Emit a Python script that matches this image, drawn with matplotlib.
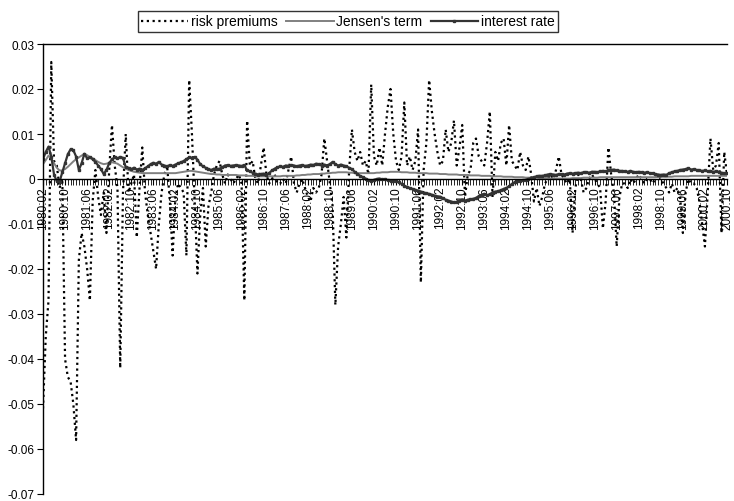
import numpy as np
import matplotlib
matplotlib.use("Agg")
from matplotlib import pyplot as plt
from matplotlib.ticker import FixedLocator, FuncFormatter

plt.rcParams['font.family'] = ['Liberation Sans', 'DejaVu Sans']

# monthly observations 1980:02 .. 2000:10, values in units of 0.001
months = [f"{1980 + (1 + k) // 12}:{(1 + k) % 12 + 1:02d}" for k in range(249)]

risk_premiums = [
    -51, -35, -27, 26, 4, 3, -2, 0, -40, -44,
    -45, -50, -58, -18, -12, -15, -20, -27, -5, 2,
    -4, -8, -3, -12, 2, 12, 3, -2, -42, -3,
    10, -3, -1, 1, -13, -2, 7, -3, -8, -12,
    -16, -20, -10, -3, 1, 3, -5, -17, -4, -1,
    -2, -3, -17, 22, 10, -5, -21, -8, -2, -15,
    -6, -3, 1, 3, 4, 1, -1, 1, 0, -1,
    0, 1, -1, -27, 13, 3, 4, 0, -1, 3,
    7, 1, -1, 0, 1, -1, -1, 0, -1, 2,
    5, -1, -3, -1, 0, -2, -4, -5, -2, -3,
    -2, 1, 9, 4, -1, -6, -28, -15, -10, -4,
    -13, 2, 11, 6, 4, 6, 3, 4, 1, 21,
    5, 3, 7, 3, 10, 16, 20, 10, 4, 2,
    5, 17, 3, 5, 2, 4, 11, -23, 2, 8,
    22, 15, 10, 6, 3, 4, 11, 6, 8, 13,
    3, 7, 12, -4, 1, 2, 8, 9, 5, 4,
    3, 8, 15, -4, 6, 4, 8, 9, 3, 12,
    4, 3, 2, 6, 3, 2, 5, 1, -5, -2,
    -6, -4, -1, 0, 1, 0, 2, 5, 1, 0,
    -1, 0, -12, -2, 1, 0, -3, -2, 0, 1,
    0, -1, -2, -11, -5, 7, 1, -3, -15, -4,
    -1, -1, -2, 0, -1, 0, 1, 0, -1, 0,
    0, -1, 0, 1, 0, -1, -2, -3, -1, -3,
    -2, -4, -12, -3, 0, -1, -1, -2, -5, -10,
    -15, -3, 9, 2, 3, 8, -12, 6, 1,
]

jensens_term = [
    3.3, 4.2, 5.2, 4.5, 3.5, 2.5, 1.9, 1.9, 2.2, 2.7,
    3.3, 3.9, 4.4, 4.8, 5.2, 5.6, 5.3, 4.9, 4.6, 4.2,
    3.8, 3.5, 3.3, 3.4, 3.6, 3.7, 3.6, 3.4, 3.0, 2.6,
    2.3, 2.0, 1.8, 1.6, 1.5, 1.4, 1.3, 1.3, 1.3, 1.3,
    1.3, 1.3, 1.3, 1.3, 1.3, 1.3, 1.3, 1.3, 1.3, 1.4,
    1.5, 1.6, 1.7, 1.8, 1.8, 1.7, 1.6, 1.5, 1.4, 1.3,
    1.2, 1.1, 1.1, 1.0, 1.0, 0.9, 0.9, 0.9, 0.9, 0.9,
    0.9, 0.8, 0.8, 0.8, 0.7, 0.7, 0.7, 0.6, 0.6, 0.6,
    0.6, 0.6, 0.6, 0.6, 0.6, 0.6, 0.6, 0.7, 0.7, 0.7,
    0.7, 0.7, 0.8, 0.8, 0.9, 0.9, 1.0, 1.0, 1.1, 1.1,
    1.1, 1.2, 1.2, 1.3, 1.3, 1.4, 1.4, 1.5, 1.5, 1.5,
    1.5, 1.4, 1.4, 1.3, 1.3, 1.3, 1.3, 1.3, 1.3, 1.3,
    1.3, 1.4, 1.4, 1.5, 1.5, 1.5, 1.6, 1.6, 1.6, 1.6,
    1.5, 1.5, 1.5, 1.4, 1.4, 1.4, 1.3, 1.3, 1.3, 1.3,
    1.2, 1.2, 1.2, 1.2, 1.1, 1.1, 1.1, 1.0, 1.0, 1.0,
    1.0, 0.9, 0.9, 0.9, 0.9, 0.8, 0.8, 0.8, 0.8, 0.7,
    0.7, 0.7, 0.7, 0.6, 0.6, 0.6, 0.6, 0.5, 0.5, 0.5,
    0.5, 0.4, 0.4, 0.4, 0.4, 0.3, 0.3, 0.3, 0.3, 0.3,
    0.2, 0.2, 0.2, 0.2, 0.1, 0.1, 0.1, 0.1, 0.1, 0.1,
    0.1, 0.1, 0.2, 0.2, 0.2, 0.2, 0.3, 0.3, 0.3, 0.3,
    0.3, 0.3, 0.4, 0.4, 0.4, 0.4, 0.4, 0.4, 0.4, 0.4,
    0.4, 0.4, 0.4, 0.4, 0.4, 0.4, 0.4, 0.4, 0.4, 0.4,
    0.4, 0.4, 0.4, 0.5, 0.5, 0.5, 0.5, 0.5, 0.5, 0.6,
    0.6, 0.6, 0.6, 0.6, 0.6, 0.7, 0.7, 0.7, 0.7, 0.7,
    0.7, 0.7, 0.7, 0.7, 0.7, 0.7, 0.7, 0.7, 0.7,
]

interest_rate = [
    4.4, 6.0, 7.2, 5.0, 1.0, -0.5, -0.6, 1.5, 3.5, 5.5,
    6.6, 6.4, 5.0, 2.0, 3.5, 5.6, 4.6, 4.8, 4.4, 3.8,
    3.0, 2.2, 1.1, 2.0, 3.5, 4.4, 4.8, 4.6, 4.9, 4.7,
    2.6, 2.4, 2.2, 2.5, 2.1, 2.3, 2.0, 2.4, 2.8, 3.3,
    3.6, 3.4, 3.8, 3.2, 3.0, 2.8, 3.1, 2.9, 3.2, 3.5,
    3.7, 4.0, 4.4, 4.8, 4.7, 4.9, 4.3, 3.3, 2.8, 2.5,
    2.2, 2.0, 2.3, 2.2, 2.3, 2.6, 3.0, 3.1, 2.9, 3.0,
    3.1, 3.0, 2.9, 3.1, 1.9, 1.7, 1.4, 1.2, 1.0, 1.1,
    1.2, 1.0, 1.3, 1.9, 2.3, 2.6, 2.8, 2.7, 3.0, 2.9,
    3.1, 3.0, 2.8, 3.0, 3.1, 2.9, 3.0, 3.2, 3.1, 3.4,
    3.3, 3.0, 3.2, 3.0, 3.3, 3.8, 3.3, 3.0, 3.2, 3.0,
    2.8, 2.5, 2.2, 1.6, 1.1, 0.7, 0.4, 0.1, -0.3, -0.4,
    -0.2, 0.0, 0.1, -0.1, 0.0, -0.3, -0.4, -0.4, -0.5, -0.7,
    -1.1, -1.5, -1.8, -2.0, -2.2, -2.4, -2.6, -2.8, -3.0, -3.2,
    -3.3, -3.5, -3.7, -3.9, -4.1, -4.3, -4.6, -4.8, -5.0, -5.2,
    -5.1, -4.8, -4.6, -4.8, -4.6, -4.5, -4.4, -4.2, -3.8, -3.5,
    -3.3, -3.6, -3.4, -3.0, -2.8, -2.7, -2.5, -2.2, -2.0, -1.6,
    -1.1, -0.7, -0.5, -0.4, -0.3, -0.2, 0.0, 0.2, 0.4, 0.6,
    0.7, 0.7, 0.8, 1.0, 1.1, 1.0, 0.9, 1.1, 1.1, 1.0,
    1.2, 1.3, 1.2, 1.3, 1.4, 1.3, 1.5, 1.5, 1.4, 1.6,
    1.6, 1.5, 1.7, 1.8, 1.7, 1.9, 2.0, 2.1, 1.9, 1.8,
    1.8, 1.7, 1.6, 1.8, 1.6, 1.5, 1.6, 1.5, 1.4, 1.5,
    1.3, 1.3, 1.1, 1.0, 0.9, 1.0, 0.9, 1.3, 1.5, 1.7,
    1.8, 2.0, 2.1, 2.2, 2.4, 2.1, 2.2, 2.0, 1.9, 1.8,
    1.9, 1.7, 1.8, 1.6, 1.7, 1.5, 1.4, 1.3, 1.3,
]

x = np.arange(len(months))
rp = np.array(risk_premiums) / 1000
jt = np.array(jensens_term) / 1000
ir = np.array(interest_rate) / 1000

fig = plt.figure(figsize=(7.34, 5.02), dpi=100)
ax = fig.add_axes([43 / 734, 7 / 502, 684 / 734, 450 / 502])

ax.plot(x, rp, color='black', linestyle=(0, (1, 1.6)), linewidth=1.6, label='risk premiums')
ax.plot(x, jt, color='#808080', linewidth=1.4, label="Jensen's term")
ax.plot(x, ir, color='#333333', linewidth=1.6, marker='s', markersize=1.8, label='interest rate')

ax.set_xlim(0, len(months) - 1)
ax.set_ylim(-0.07, 0.03)

ax.spines['bottom'].set_position(('data', 0))
ax.spines['right'].set_visible(False)
for s in ax.spines.values():
    s.set_linewidth(1.0)

ax.set_yticks(np.arange(-0.07, 0.031, 0.01))
ax.yaxis.set_major_formatter(FuncFormatter(lambda v, p: '0' if abs(v) < 1e-9 else f'{v:.2f}'))
ax.tick_params(axis='y', direction='out', length=4, labelsize=8.5, pad=2)

ax.xaxis.set_major_locator(FixedLocator(x[::8]))
ax.xaxis.set_minor_locator(FixedLocator(x))
ax.set_xticklabels(months[::8], rotation=90)
ax.tick_params(axis='x', which='major', direction='out', length=4, labelsize=8.5, pad=1)
ax.tick_params(axis='x', which='minor', direction='out', length=4)

fig.legend(loc='upper center', bbox_to_anchor=(0.474, 0.99), ncol=3, frameon=True,
           fancybox=False, edgecolor='black', fontsize=10, handlelength=3.4,
           handletextpad=0.2, columnspacing=0.6, borderpad=0.25)

fig.savefig('out.png', dpi=100)
